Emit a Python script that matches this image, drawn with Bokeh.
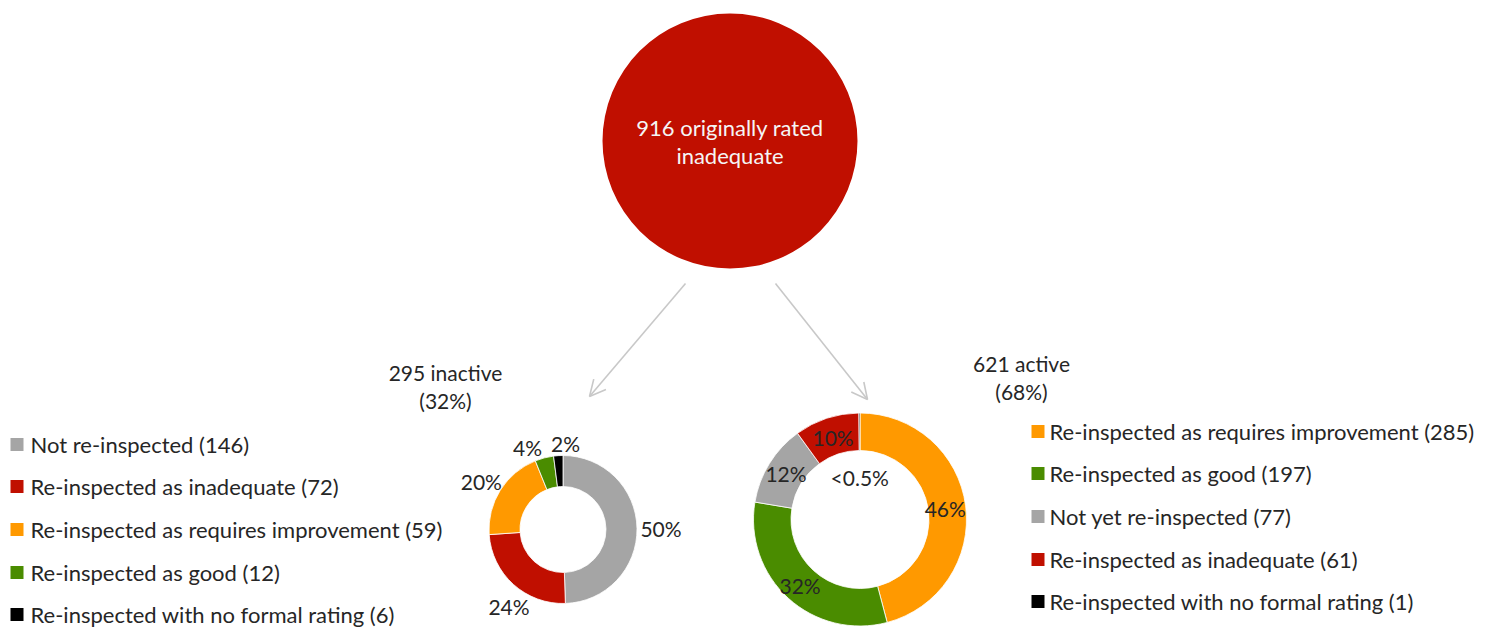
import math
from bokeh.plotting import figure
from bokeh.models import Range1d, Arrow, OpenHead
from bokeh.core.properties import value
from bokeh.embed import file_html
from bokeh.resources import INLINE

# ---------------- data ----------------
original_total = 916
original_label = "originally rated"
original_label2 = "inadequate"

inactive_total = 295
inactive_share = "32%"
inactive_categories = ["Not re-inspected", "Re-inspected as inadequate",
                       "Re-inspected as requires improvement", "Re-inspected as good",
                       "Re-inspected with no formal rating"]
inactive_values = [146, 72, 59, 12, 6]
inactive_pct_labels = ["50%", "24%", "20%", "4%", "2%"]

active_total = 621
active_share = "68%"
active_categories = ["Re-inspected as requires improvement", "Re-inspected as good",
                     "Not yet re-inspected", "Re-inspected as inadequate",
                     "Re-inspected with no formal rating"]
active_values = [285, 197, 77, 61, 1]
active_pct_labels = ["46%", "32%", "12%", "10%", "<0.5%"]

# ---------------- styles ----------------
COL = {
    "Not re-inspected": "#A5A5A5",
    "Not yet re-inspected": "#A5A5A5",
    "Re-inspected as inadequate": "#C00F00",
    "Re-inspected as requires improvement": "#FF9900",
    "Re-inspected as good": "#4A8C00",
    "Re-inspected with no formal rating": "#000000",
}
FONT = value("Lato")
TXT = "#262626"
W, H = 1498, 630


def Y(py):
    return H - py


p = figure(width=W, height=H, output_backend="svg", toolbar_location=None,
           x_range=Range1d(0, W), y_range=Range1d(0, H),
           min_border=0, outline_line_color=None)
p.axis.visible = False
p.grid.visible = False
p.background_fill_color = "white"
p.border_fill_color = "white"

# big circle
p.circle(x=[729.5], y=[Y(140.5)], radius=127.5, fill_color="#C00F00", line_color=None)
p.text(x=[729.5, 729.5], y=[Y(127), Y(155)],
       text=[f"{original_total} {original_label}", original_label2],
       text_font=FONT, text_font_size="22px", text_color="#F5F5F5",
       text_align="center", text_baseline="middle")

# arrows
for xs, ys, xe, ye in [(685, 283, 589, 396), (775, 283, 867, 399)]:
    p.add_layout(Arrow(x_start=xs, y_start=Y(ys), x_end=xe, y_end=Y(ye),
                       line_color="#C8C8C8", line_width=1.6,
                       end=OpenHead(size=16, line_color="#C8C8C8", line_width=1.6)))


def donut(cx, cy, r_in, r_out, cats, vals, labels, label_r, nudge):
    tot = sum(vals)
    cum = 0.0
    starts, ends, cols = [], [], []
    lx, ly = [], []
    for i, v in enumerate(vals):
        a0 = math.pi / 2 - 2 * math.pi * cum / tot
        a1 = math.pi / 2 - 2 * math.pi * (cum + v) / tot
        mid = (a0 + a1) / 2
        starts.append(a0)
        ends.append(a1)
        cols.append(COL[cats[i]])
        r = label_r[i]
        lx.append(cx + r * math.cos(mid) + nudge[i][0])
        ly.append(Y(cy) + r * math.sin(mid) - nudge[i][1])
        cum += v
    p.annular_wedge(x=cx, y=Y(cy), inner_radius=r_in, outer_radius=r_out,
                    start_angle=starts, end_angle=ends, direction="clock",
                    fill_color=cols, line_color="white", line_width=0.8)
    p.text(x=lx, y=ly, text=labels, text_font=FONT, text_font_size="21px",
           text_color=TXT, text_align="center", text_baseline="middle")


donut(562.5, 529, 43, 74, inactive_categories, inactive_values,
      inactive_pct_labels, [98, 94, 94, 89, 86],
      [(0, 1), (9, 7), (-2, 2), (-13, 4), (8, 0)])
donut(859.5, 519, 69, 106.5, active_categories, active_values,
      active_pct_labels, [86, 89, 87, 86, 42],
      [(0, 0), (0, 0), (0, 0), (0, 0), (0, 0)])

# group labels
p.text(x=[445, 445], y=[Y(372), Y(400)],
       text=[f"{inactive_total} inactive", f"({inactive_share})"],
       text_font=FONT, text_font_size="21px", text_color=TXT,
       text_align="center", text_baseline="middle")
p.text(x=[1021, 1021], y=[Y(363), Y(391)],
       text=[f"{active_total} active", f"({active_share})"],
       text_font=FONT, text_font_size="21px", text_color=TXT,
       text_align="center", text_baseline="middle")


def legend(x_sq, x_txt, rows_y, cats, vals):
    p.rect(x=[x_sq] * len(cats), y=[Y(r) for r in rows_y], width=13, height=13,
           fill_color=[COL[c] for c in cats], line_color=None)
    p.text(x=[x_txt] * len(cats), y=[Y(r) for r in rows_y],
           text=[f"{c} ({v})" for c, v in zip(cats, vals)],
           text_font=FONT, text_font_size="22px", text_color=TXT,
           text_align="left", text_baseline="middle")


legend(16.5, 30, [444, 486, 529, 572, 614], inactive_categories, inactive_values)
legend(1037.5, 1049, [431, 473, 516, 559, 601], active_categories, active_values)

open("out.html", "w").write(file_html(p, INLINE))
